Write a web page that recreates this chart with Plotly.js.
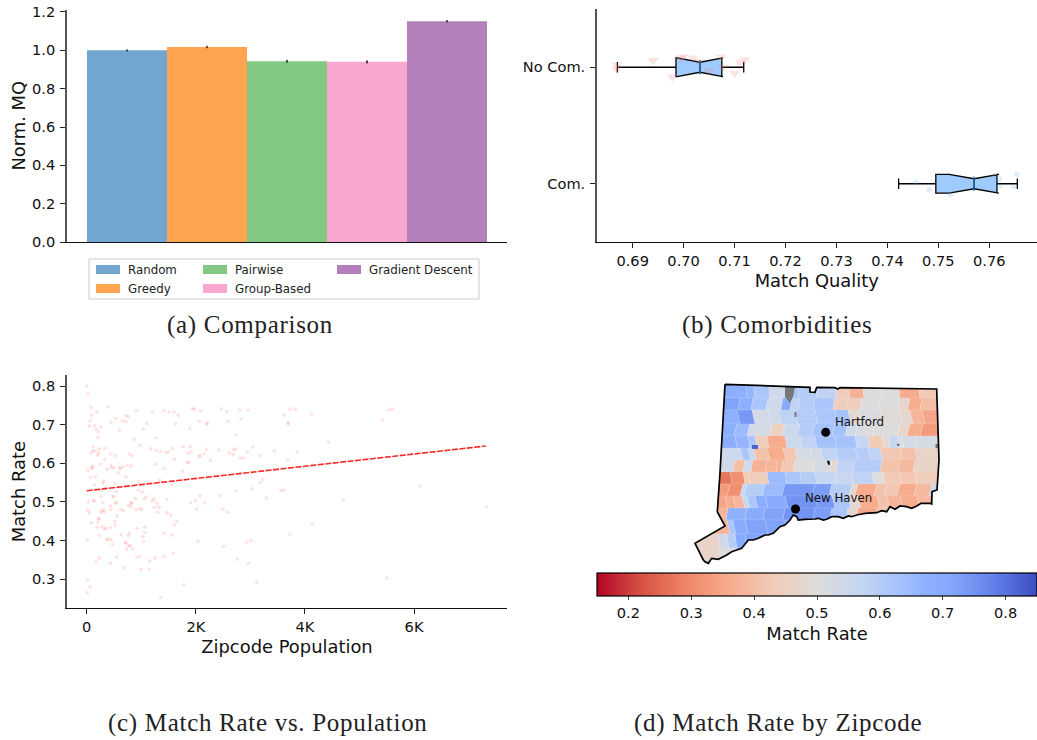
<!DOCTYPE html>
<html>
<head>
<meta charset="utf-8">
<script src="https://cdn.plot.ly/plotly-3.0.1.min.js"></script>
<style>
html,body{margin:0;padding:0;background:#fff}
#chart{width:1037px;height:740px}
.annotation-text{letter-spacing:0.7px}
</style>
</head>
<body>
<div id="chart"></div>
<script>
// ---------- panel (a) ----------
const methodNames = ['Random','Greedy','Pairwise','Group-Based','Gradient Descent'];
const methodMQ = [1.0,1.017,0.943,0.94,1.152];
const methodErr = [0.002,0.003,0.004,0.005,0.003];
const methodColors = ['#72a5cf','#ffa552','#82c883','#f9a6d1','#b380bb'];
const methodLegend = ['legend','legend','legend2','legend2','legend3'];

// ---------- panel (b) ----------
const groupLabels = ['Com.','No Com.'];
const groupSlots = [1,2];
const whiskerLow = [0.7422,0.6870];
const boxQ1 = [0.7495,0.6985];
const boxMedian = [0.7570,0.7032];
const boxQ3 = [0.7615,0.7075];
const whiskerHigh = [0.7655,0.7118];
const notchLow = [0.7521,0.6987];
const notchHigh = [0.7619,0.7077];
const noComX = [0.6869,0.6869,0.6940,0.6978,0.6994,0.7000,0.7018,0.7074,0.7078,0.7100,0.7111,0.7120,0.7030,0.7050];
const noComY = [2.02,1.986,2.058,1.917,2.08,2.09,2.08,2.09,2.0,1.95,2.04,2.066,2.05,1.97];
const comX = [0.7456,0.7482,0.7523,0.7620,0.7620,0.7648,0.7654,0.7610];
const comY = [1.01,0.948,0.905,1.04,0.977,0.977,1.08,1.07];

// ---------- panel (c) ----------
const zipPopulation = [0,24,80,397,98,189,61,49,141,171,257,214,202,446,532,654,721,764,715,904,605,874,1100,1039,1204,1277,984,1418,1509,1601,1680,1631,1937,1974,2084,2059,1888,2212,2200,2462,2566,2591,2805,2829,2957,2737,
122,86,110,159,226,336,196,220,330,257,110,86,24,67,159,98,428,519,446,379,458,501,580,605,617,672,745,813,782,825,721,1173,1277,1350,1448,1497,1576,1259,1424,1607,1766,1900,1851,1912,1851,1864,1754,2065,2077,2151,2200,2420,2267,2615,2688,2688,2731,2945,2811,2872,
3043,3171,3440,3856,3684,4430,3617,3721,3825,4124,3697,3697,5420,5536,5597,3177,3226,3031,3556,3611,3293,4705,6110,7326,4137,3721,3012,3116,5499,
312,299,141,251,330,525,544,501,477,263,141,128,293,550,525,12,43,31,275,324,263,312,434,440,220,220,202,92,189,281,342,324,428,519,513,556,232,12,367,397,446,477,629,764,788,623,672,764,807,813,892,825,721,770,800,837,733,709,904,972,1008,947,953,1020,1088,1057,1234,1204,1289,1240,1326,1466,1301,1472,1540,1607,1650,1570,1424,923,1069,1063,1026,1045,916,978,996,1155,1253,1143,1411,1589,232,171,434,550,672,18,61,12,1778,1356,
1998,1906,2077,2163,2016,2450,2493,2578,2731,2041,2511,2927,2762,2963,1332,1558,709,1039];
const zipMatchRate = [0.80,0.78,0.744,0.745,0.724,0.732,0.71,0.696,0.697,0.688,0.693,0.682,0.667,0.706,0.716,0.71,0.723,0.72,0.708,0.736,0.685,0.661,0.703,0.689,0.733,0.666,0.646,0.736,0.733,0.732,0.724,0.703,0.741,0.74,0.735,0.708,0.69,0.705,0.701,0.74,0.734,0.708,0.738,0.714,0.737,0.673,
0.643,0.627,0.632,0.632,0.637,0.638,0.621,0.626,0.61,0.598,0.593,0.589,0.581,0.563,0.565,0.586,0.624,0.619,0.594,0.584,0.588,0.588,0.575,0.588,0.586,0.591,0.595,0.593,0.624,0.62,0.565,0.637,0.633,0.63,0.627,0.63,0.638,0.597,0.586,0.61,0.643,0.643,0.626,0.629,0.603,0.601,0.58,0.617,0.62,0.624,0.636,0.634,0.607,0.626,0.623,0.636,0.636,0.629,0.613,0.613,
0.642,0.62,0.632,0.628,0.607,0.654,0.724,0.74,0.74,0.727,0.705,0.701,0.711,0.738,0.74,0.55,0.558,0.534,0.529,0.53,0.51,0.504,0.541,0.487,0.441,0.416,0.399,0.292,0.303,
0.554,0.548,0.544,0.529,0.535,0.548,0.526,0.513,0.514,0.513,0.503,0.502,0.498,0.498,0.496,0.479,0.472,0.5,0.476,0.474,0.472,0.479,0.489,0.48,0.457,0.455,0.447,0.446,0.434,0.435,0.431,0.43,0.433,0.44,0.449,0.463,0.413,0.401,0.402,0.403,0.402,0.39,0.415,0.413,0.419,0.48,0.477,0.491,0.488,0.498,0.509,0.496,0.392,0.386,0.386,0.378,0.378,0.395,0.48,0.482,0.48,0.53,0.552,0.525,0.512,0.507,0.507,0.503,0.496,0.486,0.486,0.506,0.473,0.472,0.466,0.44,0.449,0.414,0.419,0.431,0.434,0.421,0.41,0.397,0.357,0.359,0.325,0.347,0.354,0.325,0.358,0.366,0.354,0.344,0.341,0.356,0.329,0.297,0.28,0.265,0.285,0.252,
0.503,0.498,0.516,0.497,0.481,0.516,0.481,0.473,0.528,0.397,0.384,0.395,0.352,0.341,0.556,0.544,0.539,0.545];
const fitPopulation = [0,7314];
const fitRate = [0.5287,0.6446];

// ---------- panel (d): map in projected map units ----------
const bandTop = [380,398,410,424,436,448,460,472,484,496,508,520,534,548];
const bandBottom = [398,410,424,436,448,460,472,484,496,508,520,534,548,570];
const bandLean = [2,-2,3,-3,2,3,-2,2,-3,3,-2,3,2,0];
const bandEdges = [
 [690,745,753,768,785,797,815,835,848,862,880,898,918,945],
 [690,740,753,768,783,792,800,815,835,848,862,880,900,910,922,945],
 [690,737,752,768,778,795,815,835,848,858,880,900,910,922,945],
 [690,737,750,772,785,800,815,835,848,858,875,900,910,923,945],
 [690,735,748,755,767,785,800,815,835,855,868,882,888,898,902,915,945],
 [690,740,748,753,767,783,795,810,820,835,855,868,880,900,915,945],
 [690,735,745,753,767,778,783,795,815,832,838,855,882,900,915,945],
 [690,730,743,748,767,785,800,815,835,852,872,883,900,915,945],
 [690,730,743,747,765,785,815,832,852,858,877,887,900,917,932,945],
 [690,725,733,742,747,755,765,785,815,832,848,858,877,887,900,917,932,945],
 [690,728,747,765,785,815,832,848,858,877,890,945],
 [690,727,733,745,765,785,945],
 [690,718,727,735,745,770,945],
 [690,718,735,745,945]
];
const bandRates = [
 [0.68,0.66,0.62,0.54,0.62,0.60,0.58,0.44,0.37,0.50,0.50,0.36,0.43],
 [0.72,0.68,0.62,0.54,0.70,0.58,0.60,0.62,0.44,0.44,0.50,0.50,0.47,0.36,0.40],
 [0.68,0.74,0.53,0.54,0.58,0.60,0.62,0.63,0.48,0.51,0.49,0.47,0.38,0.35],
 [0.68,0.65,0.53,0.45,0.55,0.60,0.63,0.63,0.54,0.51,0.50,0.47,0.36,0.33],
 [0.69,0.66,0.62,0.44,0.36,0.55,0.58,0.63,0.63,0.57,0.43,0.48,0.56,0.50,0.53,0.52],
 [0.55,0.62,0.56,0.41,0.36,0.42,0.52,0.53,0.58,0.60,0.60,0.58,0.42,0.41,0.46],
 [0.54,0.40,0.54,0.37,0.38,0.37,0.42,0.50,0.52,0.47,0.58,0.60,0.41,0.39,0.46],
 [0.27,0.31,0.43,0.44,0.65,0.62,0.60,0.57,0.56,0.58,0.50,0.43,0.42,0.44],
 [0.33,0.31,0.56,0.60,0.65,0.74,0.73,0.60,0.48,0.36,0.41,0.42,0.36,0.39,0.55],
 [0.35,0.36,0.38,0.56,0.62,0.69,0.70,0.75,0.74,0.62,0.48,0.36,0.41,0.38,0.36,0.39,0.55],
 [0.38,0.67,0.70,0.72,0.75,0.73,0.62,0.48,0.35,0.41,0.38],
 [0.38,0.62,0.70,0.72,0.72,0.70],
 [0.46,0.54,0.60,0.70,0.72,0.70],
 [0.46,0.50,0.60,0.70]
];
const outlineX = [725,810,810,815,816.7,835,837.7,840,936.7,938,939,937,932,931.7,930,925,921,916.7,911.7,906.7,900,895,890,886.7,881.7,876.7,871.7,865,856.7,851.7,848.3,843.3,838.3,831.7,826.7,823.3,818.3,815,805,798.3,796.7,793.3,790,785,780,773.3,768.3,765,758.3,753.3,748.3,741.7,736.7,731.7,726.7,723.3,718.3,711.7,708.3,705,703.3,695,725,717.3,720,725];
const outlineY = [384.3,387.3,392,392.3,387.3,387.7,389,387.7,389,420,460,490,491.7,504,503.3,503.3,503.3,506,508.3,506.7,506,509.3,506.7,511.7,510.7,512.7,512.7,513.3,515,516.7,516,518.3,516.7,516.7,519.3,520,518.3,519,519.3,520,516.7,515,520,525,526.7,533.3,535,535,538.3,540,540,548.3,550,551.7,555,556.7,559.3,558.3,563.3,561.7,560,543.3,526,511.7,473,384.3];
const maskX = [690,945,945,690,690];
const maskY = [380,380,568,568,380];
const noDataX = [[785,795,793,790,785],[794.5,796.5,796.5,794.5],[935.5,938,938,935.5],[897,900,899,897],[827,829.5,830,828]];
const noDataY = [[387,387,397,403,397],[412,412,417,417],[444,444,448,448],[443.5,444,446,446],[460.5,461,465,464.5]];
const smallTownX = [752,758,758,752];
const smallTownY = [445,445,449,449];
const smallTownRate = 0.82;
const cityNames = ['Hartford','New Haven'];
const cityX = [825.7,795.5];
const cityY = [432.3,509];
const cityLabelX = [835,805];
const cityLabelY = [423.5,499.5];

// ---------- colour scale ----------
const scaleValues = [0,0.1,0.2,0.25,0.3,0.4,0.5,0.6,0.7,0.75,0.8,0.9,1];
const scaleColors = ['#b40426','#d65244','#ee8468','#f4987a','#f7ac8e','#f2cbb7','#dddcdc','#c5d6f2','#a0bffd','#8db0fe','#86a9fc','#6282ea','#3b4cc0'];
const rateMin = 0.15, rateMax = 0.85;
const colorscale = scaleValues.map((v,i)=>[v,scaleColors[i]]);
function hexRgb(h){return [1,3,5].map(i=>parseInt(h.substr(i,2),16));}
function rateColor(r){
  const t=Math.max(0,Math.min(1,(r-rateMin)/(rateMax-rateMin)));
  let i=0; while(i<scaleValues.length-2 && t>scaleValues[i+1]) i++;
  const f=(t-scaleValues[i])/(scaleValues[i+1]-scaleValues[i]);
  const a=hexRgb(scaleColors[i]),b=hexRgb(scaleColors[i+1]);
  return 'rgb('+a.map((c,k)=>Math.round(c+(b[k]-c)*f)).join(',')+')';
}

// ---------- layout helpers ----------
const W=1037,H=740;
const dx=(a,b)=>[a/W,b/W];
const dy=(top,bottom)=>[1-bottom/H,1-top/H];
const FONT='"DejaVu Sans", sans-serif';
const tickFont={family:FONT,size:14.6,color:'#111'};
const titleFont={family:FONT,size:17.9,color:'#111'};
const yLine={showline:true,linecolor:'#555',linewidth:1.6,ticks:'outside',ticklen:5,tickwidth:1.2,tickcolor:'#222',showgrid:false,zeroline:false,tickfont:tickFont,ticklabelstandoff:2};
const xLine={showline:true,linecolor:'#111',linewidth:1.2,ticks:'outside',ticklen:5,tickwidth:1.2,tickcolor:'#222',showgrid:false,zeroline:false,tickfont:tickFont};

const traces=[];
// (a)
methodNames.forEach((n,i)=>traces.push({
  type:'bar',name:n,x:[i],y:[methodMQ[i]],width:1,xaxis:'x',yaxis:'y',legend:methodLegend[i],
  marker:{color:methodColors[i],line:{width:0}},
  error_y:{type:'data',array:[methodErr[i]],color:'#000',thickness:1.4,width:0.5},
  hoverinfo:'x+y'
}));
// (b)
traces.push({type:'scatter',mode:'markers',x:noComX,y:noComY,xaxis:'x2',yaxis:'y2',showlegend:false,
  marker:{symbol:'triangle-down',size:9.5,color:'rgba(240,128,128,0.22)'},hoverinfo:'x'});
traces.push({type:'scatter',mode:'markers',x:comX,y:comY,xaxis:'x2',yaxis:'y2',showlegend:false,
  marker:{symbol:'circle',size:5.5,color:'rgba(100,160,220,0.2)'},hoverinfo:'x'});
groupLabels.forEach((g,i)=>{
  traces.push({type:'box',orientation:'h',name:g,y:[groupSlots[i]],xaxis:'x2',yaxis:'y2',showlegend:false,
    lowerfence:[whiskerLow[i]],q1:[boxQ1[i]],median:[boxMedian[i]],q3:[boxQ3[i]],upperfence:[whiskerHigh[i]],
    notchspan:[(notchHigh[i]-notchLow[i])/2],notched:true,notchwidth:0.23,
    width:0.16,whiskerwidth:0.55,fillcolor:'#9ecbfb',line:{color:'#000',width:1.3},boxpoints:false});
  traces.push({type:'scatter',mode:'lines',x:[boxMedian[i],boxMedian[i]],y:[groupSlots[i]-0.062,groupSlots[i]+0.062],
    xaxis:'x2',yaxis:'y2',showlegend:false,line:{color:'#1f77b4',width:1.3},hoverinfo:'skip'});
});
// (c)
traces.push({type:'scatter',mode:'markers',x:zipPopulation,y:zipMatchRate,xaxis:'x3',yaxis:'y3',showlegend:false,
  marker:{size:3.6,color:'rgba(255,60,60,0.15)'}});
traces.push({type:'scatter',mode:'lines',x:fitPopulation,y:fitRate,xaxis:'x3',yaxis:'y3',showlegend:false,
  line:{color:'rgba(255,0,0,0.85)',width:1.6,dash:'6px,1.5px'},hoverinfo:'skip'});
// (d)
bandRates.forEach((rates,b)=>rates.forEach((r,c)=>{
  const e=bandEdges[b],l=bandLean[b];
  traces.push({type:'scatter',mode:'lines',xaxis:'x4',yaxis:'y4',showlegend:false,fill:'toself',
    x:[e[c],e[c+1],e[c+1]+l,e[c]+l,e[c]],y:[bandTop[b],bandTop[b],bandBottom[b],bandBottom[b],bandTop[b]],
    fillcolor:rateColor(r),line:{color:'rgba(255,255,255,0.22)',width:0.5},hoverinfo:'text',text:String(r)});
}));
traces.push({type:'scatter',mode:'lines',xaxis:'x4',yaxis:'y4',showlegend:false,fill:'toself',
  x:smallTownX,y:smallTownY,fillcolor:rateColor(smallTownRate),line:{width:0},hoverinfo:'skip'});
noDataX.forEach((xs,i)=>traces.push({type:'scatter',mode:'lines',xaxis:'x4',yaxis:'y4',showlegend:false,fill:'toself',
  x:xs,y:noDataY[i],fillcolor:i===4?'#000':'#777',line:{width:0},hoverinfo:'skip'}));
traces.push({type:'scatter',mode:'lines',xaxis:'x4',yaxis:'y4',showlegend:false,fill:'toself',
  x:maskX.concat(outlineX.slice().reverse(),[maskX[0]]),y:maskY.concat(outlineY.slice().reverse(),[maskY[0]]),
  fillcolor:'#fff',line:{width:0},hoverinfo:'skip'});
traces.push({type:'scatter',mode:'lines',xaxis:'x4',yaxis:'y4',showlegend:false,x:outlineX,y:outlineY,
  line:{color:'#000',width:1.7},hoverinfo:'skip'});
traces.push({type:'scatter',mode:'markers',xaxis:'x4',yaxis:'y4',showlegend:false,x:cityX,y:cityY,
  marker:{size:9,color:'#000'},hoverinfo:'skip'});
traces.push({type:'scatter',mode:'text',xaxis:'x4',yaxis:'y4',showlegend:false,x:cityLabelX,y:cityLabelY,text:cityNames,
  textposition:'middle right',textfont:{family:FONT,size:11.8,color:'#111'},hoverinfo:'text'});
// colour bar carrier
traces.push({type:'scatter',mode:'markers',xaxis:'x4',yaxis:'y4',showlegend:false,x:[800],y:[470],hoverinfo:'skip',
  marker:{size:1,opacity:0,color:[0.5],cmin:rateMin,cmax:rateMax,colorscale:colorscale,showscale:true,
    colorbar:{orientation:'h',len:440,lenmode:'pixels',thickness:23,thicknessmode:'pixels',
      x:817/W,xanchor:'center',y:1-573/H,yanchor:'top',xpad:0,ypad:0,
      outlinewidth:1.2,outlinecolor:'#000',ticks:'outside',ticklen:4,tickwidth:1.2,
      tickvals:[0.2,0.3,0.4,0.5,0.6,0.7,0.8],ticktext:['0.2','0.3','0.4','0.5','0.6','0.7','0.8'],
      tickfont:tickFont,title:{text:'Match Rate',side:'bottom',font:titleFont}}}});

const caption=(text,cx,cy)=>({text,xref:'paper',yref:'paper',x:cx/W,y:1-cy/H,xanchor:'center',yanchor:'middle',showarrow:false,
  font:{family:'"Liberation Serif", serif',size:25,color:'#222'}});
const legendBase=(left)=>({orientation:'v',x:left/W,xanchor:'left',y:1-255/H,yanchor:'top',bgcolor:'rgba(0,0,0,0)',borderwidth:0,
  font:{family:FONT,size:11.8,color:'#222'},itemwidth:30,traceorder:'normal'});

const layout={
  width:W,height:H,margin:{l:0,r:0,t:0,b:0},paper_bgcolor:'#fff',plot_bgcolor:'rgba(0,0,0,0)',barmode:'overlay',
  showlegend:true,
  legend:legendBase(88),legend2:legendBase(195),legend3:legendBase(329),
  shapes:[{type:'rect',xref:'paper',yref:'paper',x0:89/W,x1:479/W,y0:1-259/H,y1:1-299/H,line:{color:'#ccc',width:1},fillcolor:'#fff',layer:'below'}],
  xaxis:Object.assign({},xLine,{domain:dx(67,507),range:[-0.75,4.75],showticklabels:false,ticks:'',anchor:'y'}),
  yaxis:Object.assign({},yLine,{domain:dy(9.5,242),range:[0,1.213],tickvals:[0,0.2,0.4,0.6,0.8,1.0,1.2],ticktext:['0.0','0.2','0.4','0.6','0.8','1.0','1.2'],anchor:'x',
    title:{text:'Norm. MQ',font:titleFont,standoff:2}}),
  xaxis2:Object.assign({},xLine,{domain:dx(597,1036.5),range:[0.683,0.76926],tickvals:[0.69,0.70,0.71,0.72,0.73,0.74,0.75,0.76],ticktext:['0.69','0.70','0.71','0.72','0.73','0.74','0.75','0.76'],anchor:'y2',
    title:{text:'Match Quality',font:titleFont,standoff:6}}),
  yaxis2:Object.assign({},yLine,{domain:dy(9,242),range:[0.5,2.5],tickvals:groupSlots,ticktext:groupLabels,anchor:'x2'}),
  xaxis3:Object.assign({},xLine,{domain:dx(67,507),range:[-361,7704],tickvals:[0,2000,4000,6000],ticktext:['0','2K','4K','6K'],anchor:'y3',
    title:{text:'Zipcode Population',font:titleFont,standoff:6}}),
  yaxis3:Object.assign({},yLine,{domain:dy(375,608.3),range:[0.2241,0.8285],tickvals:[0.3,0.4,0.5,0.6,0.7,0.8],ticktext:['0.3','0.4','0.5','0.6','0.7','0.8'],anchor:'x3',
    title:{text:'Match Rate',font:titleFont,standoff:2}}),
  xaxis4:{domain:dx(690,945),range:[690,945],visible:false,anchor:'y4',fixedrange:true},
  yaxis4:{domain:dy(380,568),range:[568,380],visible:false,anchor:'x4',fixedrange:true},
  annotations:[
    caption('(a) Comparison',250,325),
    caption('(b) Comorbidities',777,325),
    caption('(c) Match Rate vs. Population',268,723),
    caption('(d) Match Rate by Zipcode',778,723)
  ]
};
Plotly.newPlot('chart',traces,layout,{displayModeBar:false}).then(gd=>{
  gd.querySelectorAll('.legendpoints path').forEach(p=>p.setAttribute('d','M12,4.5H-12V-4.5H12Z'));
});
</script>
</body>
</html>
